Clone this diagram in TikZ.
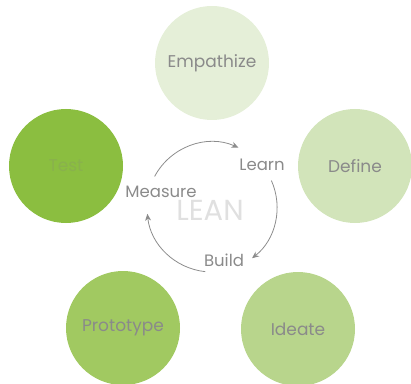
\documentclass[tikz,border=0pt]{standalone}
\usepackage{fontspec}
\setmainfont{Poppins}
\usetikzlibrary{arrows.meta}
\definecolor{cemp}{HTML}{E5EFD8}
\definecolor{cdef}{HTML}{D2E4BA}
\definecolor{cide}{HTML}{B8D58C}
\definecolor{cpro}{HTML}{A1C961}
\definecolor{ctes}{HTML}{8BBE40}
\definecolor{ctxt}{HTML}{8A8A8A}
\definecolor{carr}{HTML}{8C8C8C}
\tikzset{
  phase/.style={circle, minimum size=114pt, inner sep=0pt, text=ctxt, font=\fontsize{17}{19}\selectfont},
  cyclelbl/.style={text=ctxt, font=\fontsize{16.5}{18}\selectfont},
  cyclearrow/.style={draw=carr, line width=0.8pt, -{Stealth[length=7pt,width=6pt]}}
}
\begin{document}
\begin{tikzpicture}[x=1pt,y=1pt]
\useasboundingbox (0,0) rectangle (411,383);
\node[phase, fill=cemp] (emp) at (212,320) {Empathize};
\node[phase, fill=cdef] (def) at (355,217) {Define};
\node[phase, fill=cide] (ide) at (298,54) {Ideate};
\node[phase, fill=cpro] (pro) at (123,55) {Prototype};
\node[phase, fill=ctes, text=ctes!80!gray] (tes) at (66,217) {Test};
\coordinate (cen) at (212,176);
\node[text=black!12, font=\fontsize{29}{31}\selectfont] (lean) at (210,173) {LEAN};
\node[cyclelbl] (learn) at (262,218) {Learn};
\node[cyclelbl] (meas) at (161,191) {Measure};
\node[cyclelbl] (build) at (224,123) {Build};
\draw[cyclearrow] ([shift={(152:65pt)}]cen) arc[start angle=152, end angle=66, radius=65pt];
\draw[cyclearrow] ([shift={(24:65pt)}]cen) arc[start angle=24, end angle=-52, radius=65pt];
\draw[cyclearrow] ([shift={(-96:65pt)}]cen) arc[start angle=-96, end angle=-174, radius=65pt];
\end{tikzpicture}
\end{document}
